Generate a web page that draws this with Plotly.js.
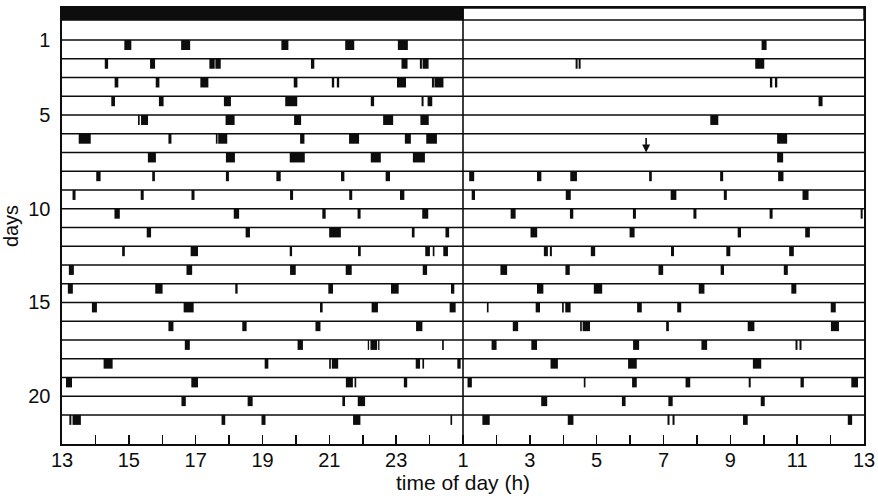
<!DOCTYPE html>
<html>
<head>
<meta charset="utf-8">
<script src="https://cdn.plot.ly/plotly-3.0.1.min.js"></script>
<style>
  html, body { margin: 0; padding: 0; background: #fff; }
  #actogram { width: 878px; height: 496px; }
</style>
</head>
<body>
<div id="actogram"></div>
<script>
// x axis is clock time running 13 .. 37 (25 = 1 h, 37 = 13 h next day)
const days = [1, 2, 3, 4, 5, 6, 7, 8, 9, 10, 11, 12, 13, 14, 15, 16, 17, 18, 19, 20, 21];
const dayTicks = [1, 5, 10, 15, 20];
const hourTicks = [13, 14, 15, 16, 17, 18, 19, 20, 21, 22, 23, 24, 25,
                   26, 27, 28, 29, 30, 31, 32, 33, 34, 35, 36, 37];
const hourLabels = ['13', '', '15', '', '17', '', '19', '', '21', '', '23', '', '1',
                    '', '3', '', '5', '', '7', '', '9', '', '11', '', '13'];
const darkPhase = [13, 25];
const lightPhase = [25, 37];
const arrowDay = 7;
const arrowHour = 30.48;

// activity bouts per day: mid time (h) and length (h)
const boutMid = [
  [14.97, 16.70, 19.67, 21.61, 23.20, 34.01],
  [14.33, 15.71, 17.49, 17.67, 20.50, 23.25, 23.74, 23.88, 28.40, 28.49, 33.88],
  [14.63, 15.86, 17.26, 19.99, 21.11, 21.26, 23.16, 24.10, 24.28, 34.22, 34.37],
  [14.53, 15.97, 17.95, 19.86, 22.29, 23.79, 24.01, 35.70],
  [15.30, 15.47, 18.03, 20.05, 22.76, 23.85, 32.52],
  [13.68, 16.23, 17.63, 17.81, 20.19, 21.74, 23.35, 24.06, 34.55],
  [15.69, 18.04, 20.04, 22.39, 23.68, 34.49],
  [14.09, 15.74, 17.95, 19.48, 21.40, 22.75, 25.26, 27.28, 28.31, 30.61, 32.74, 34.51],
  [13.36, 15.40, 16.92, 19.87, 21.64, 23.18, 25.31, 28.15, 31.30, 32.85, 35.25],
  [14.65, 18.22, 20.84, 21.89, 23.87, 26.50, 28.25, 30.13, 31.94, 34.22, 36.93],
  [15.60, 18.56, 21.17, 23.51, 24.53, 27.12, 30.06, 33.27, 35.31],
  [14.84, 16.96, 19.85, 21.90, 23.94, 24.12, 24.48, 27.48, 27.63, 28.89, 31.27, 32.94, 34.83],
  [13.28, 16.81, 19.91, 21.58, 23.86, 26.22, 28.13, 30.92, 32.76, 34.66],
  [13.25, 15.90, 18.22, 21.04, 22.96, 24.69, 27.31, 29.04, 32.14, 34.90],
  [13.97, 16.79, 20.76, 22.36, 24.69, 25.74, 27.24, 27.99, 28.14, 30.28, 31.47, 36.08],
  [16.26, 18.46, 20.66, 23.69, 26.57, 28.53, 28.69, 31.12, 33.62, 36.13],
  [16.75, 20.13, 22.17, 22.33, 22.48, 24.40, 25.93, 27.13, 30.18, 32.22, 34.98, 35.10],
  [14.38, 19.12, 21.02, 21.17, 23.65, 23.81, 24.88, 27.73, 30.07, 33.80],
  [13.21, 16.97, 21.60, 21.78, 23.28, 25.20, 28.64, 30.13, 31.73, 33.58, 35.15, 36.72],
  [16.64, 18.63, 21.43, 21.96, 27.43, 29.81, 31.21, 33.97],
  [13.25, 13.44, 17.83, 19.03, 21.82, 24.65, 25.69, 28.22, 31.15, 31.30, 33.45, 36.58]
];
const boutLen = [
  [0.21, 0.27, 0.21, 0.27, 0.30, 0.15],
  [0.10, 0.15, 0.16, 0.16, 0.10, 0.18, 0.06, 0.18, 0.06, 0.06, 0.27],
  [0.11, 0.11, 0.24, 0.11, 0.07, 0.07, 0.27, 0.06, 0.27, 0.07, 0.07],
  [0.11, 0.14, 0.21, 0.36, 0.10, 0.06, 0.14, 0.12],
  [0.05, 0.21, 0.27, 0.21, 0.30, 0.25, 0.24],
  [0.36, 0.09, 0.05, 0.27, 0.13, 0.30, 0.18, 0.32, 0.30],
  [0.24, 0.27, 0.45, 0.30, 0.36, 0.18],
  [0.13, 0.08, 0.09, 0.13, 0.10, 0.13, 0.15, 0.13, 0.20, 0.08, 0.09, 0.16],
  [0.09, 0.09, 0.09, 0.09, 0.09, 0.13, 0.10, 0.15, 0.17, 0.09, 0.18],
  [0.16, 0.16, 0.10, 0.09, 0.18, 0.15, 0.10, 0.09, 0.09, 0.09, 0.06],
  [0.13, 0.13, 0.35, 0.08, 0.11, 0.20, 0.15, 0.10, 0.14],
  [0.08, 0.22, 0.07, 0.08, 0.14, 0.05, 0.14, 0.12, 0.06, 0.13, 0.09, 0.12, 0.14],
  [0.15, 0.17, 0.17, 0.18, 0.13, 0.20, 0.13, 0.14, 0.10, 0.12],
  [0.15, 0.22, 0.07, 0.14, 0.23, 0.10, 0.19, 0.25, 0.17, 0.15],
  [0.15, 0.30, 0.08, 0.19, 0.18, 0.05, 0.13, 0.05, 0.16, 0.14, 0.12, 0.15],
  [0.15, 0.13, 0.15, 0.19, 0.16, 0.05, 0.22, 0.08, 0.20, 0.24],
  [0.15, 0.16, 0.04, 0.20, 0.04, 0.05, 0.15, 0.17, 0.18, 0.17, 0.06, 0.06],
  [0.27, 0.11, 0.05, 0.19, 0.13, 0.05, 0.10, 0.22, 0.26, 0.25],
  [0.18, 0.20, 0.21, 0.05, 0.10, 0.13, 0.05, 0.14, 0.14, 0.06, 0.10, 0.20],
  [0.13, 0.15, 0.08, 0.22, 0.18, 0.11, 0.13, 0.12],
  [0.06, 0.25, 0.11, 0.12, 0.22, 0.05, 0.22, 0.17, 0.06, 0.06, 0.14, 0.13]
];

const ink = '#0d0d0d';
const font = 'Liberation Sans, Arial, sans-serif';
const markDepth = 0.53;     // bouts hang below each day line
const barTop = -0.71, barBottom = -0.07;

// flatten bouts into one horizontal bar trace
const by = [], bx = [], bbase = [];
days.forEach((d, i) => {
  boutMid[i].forEach((m, j) => {
    by.push(d + markDepth / 2);
    bx.push(boutLen[i][j]);
    bbase.push(m - boutLen[i][j] / 2);
  });
});

const bouts = {
  type: 'bar',
  orientation: 'h',
  y: by,
  x: bx,
  base: bbase,
  width: markDepth,
  marker: { color: ink, line: { width: 0 } },
  hoverinfo: 'skip',
};

const dayLines = days.map(d => ({
  type: 'line', xref: 'paper', x0: 0, x1: 1, yref: 'y', y0: d, y1: d,
  line: { color: ink, width: 1.6 },
}));

const shapes = [
  ...dayLines,
  { type: 'rect', xref: 'x', x0: darkPhase[0], x1: darkPhase[1], yref: 'y', y0: barTop, y1: barBottom,
    fillcolor: ink, line: { color: ink, width: 1.5 } },
  { type: 'rect', xref: 'x', x0: lightPhase[0], x1: lightPhase[1], yref: 'y', y0: barTop, y1: barBottom,
    fillcolor: '#fff', line: { color: ink, width: 1.5 } },
  { type: 'line', xref: 'x', x0: darkPhase[1], x1: darkPhase[1], yref: 'paper', y0: 0, y1: 1,
    line: { color: ink, width: 1.6 } },
];

const layout = {
  width: 878,
  height: 496,
  margin: { l: 62, r: 14, t: 8, b: 52 },
  paper_bgcolor: '#fff',
  plot_bgcolor: '#fff',
  showlegend: false,
  barmode: 'overlay',
  font: { family: font, color: ink },
  xaxis: {
    range: [13, 37],
    tickmode: 'array',
    tickvals: hourTicks,
    ticktext: hourLabels,
    ticks: 'inside',
    ticklen: 9,
    tickwidth: 1.5,
    tickcolor: ink,
    ticklabelstandoff: -3,
    showline: true,
    linewidth: 1.6,
    linecolor: ink,
    mirror: true,
    showgrid: false,
    zeroline: false,
    tickfont: { size: 20, family: font, color: ink },
    title: { text: 'time of day (h)', font: { size: 21, family: font, color: ink }, standoff: 3 },
  },
  yaxis: {
    range: [22.55, barTop],
    tickmode: 'array',
    tickvals: dayTicks,
    ticks: '',
    ticklabelstandoff: 6,
    showline: true,
    linewidth: 1.6,
    linecolor: ink,
    mirror: true,
    showgrid: false,
    zeroline: false,
    tickfont: { size: 20, family: font, color: ink },
    title: { text: 'days', font: { size: 20, family: font, color: ink }, standoff: 10 },
  },
  shapes: shapes,
  annotations: [{
    x: arrowHour, y: arrowDay, xref: 'x', yref: 'y',
    text: '', showarrow: true, ax: 0, ay: -16,
    arrowhead: 2, arrowsize: 1, arrowwidth: 1.6, arrowcolor: ink,
  }],
};

Plotly.newPlot('actogram', [bouts], layout, { displayModeBar: false, staticPlot: true });
</script>
</body>
</html>
